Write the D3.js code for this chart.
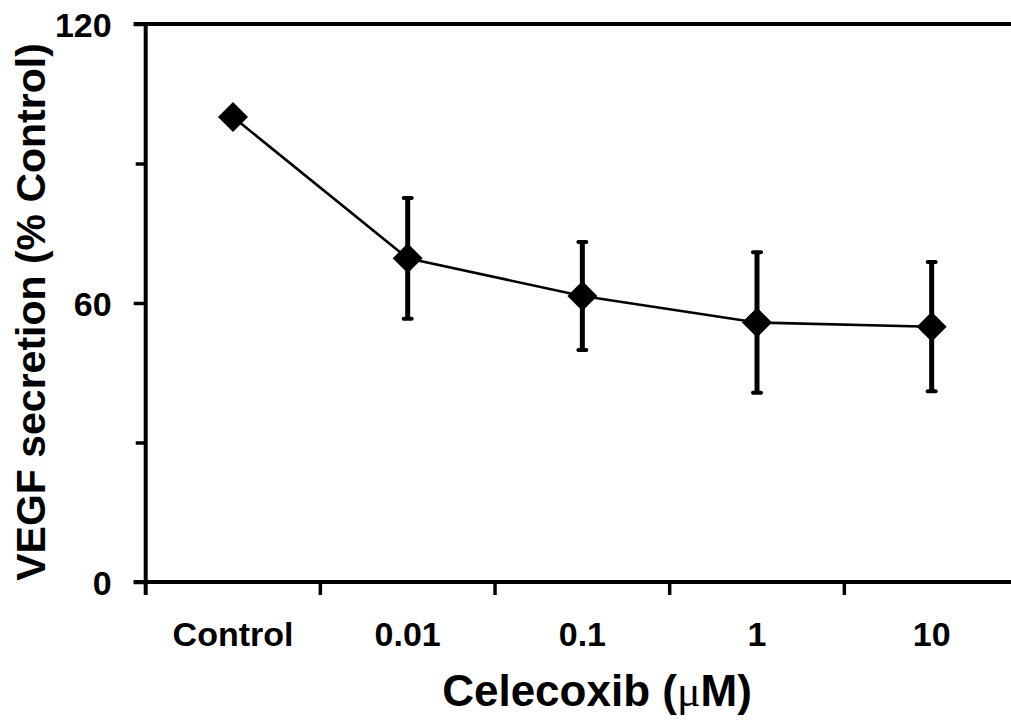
<!DOCTYPE html>
<html>
<head>
<meta charset="utf-8">
<script src="https://cdn.jsdelivr.net/npm/d3@7"></script>
<style>
  html, body { margin: 0; padding: 0; background: #fff; }
  svg { display: block; }
  text { font-family: "Liberation Sans", Arial, sans-serif; font-weight: bold; fill: #000; }
</style>
</head>
<body>
<svg id="chart" width="1011" height="727"></svg>
<script>
const categories = ["Control", "0.01", "0.1", "1", "10"];
const means = [100, 69.6, 61.5, 55.8, 54.9];
const errors = [0, 13, 11.6, 15.1, 13.9];
const yTicks = [0, 30, 60, 90, 120];
const yTickLabels = ["0", "", "60", "", "120"];

const svg = d3.select("#chart");
const x0 = 145.7, x1 = 1019, yTop = 24, yBot = 582;

const x = d3.scaleBand().domain(categories).range([x0, x1]).padding(0);
const y = d3.scaleLinear().domain([0, 120]).range([yBot, yTop]);

// Y axis
const yAxis = d3.axisLeft(y).tickValues(yTicks)
  .tickFormat((d, i) => yTickLabels[i])
  .tickSizeOuter(0).tickSizeInner(12).tickPadding(22);
const gy = svg.append("g").attr("transform", `translate(${x0},0)`).call(yAxis);
gy.select(".domain").remove();
gy.selectAll(".tick line").attr("stroke", "#000").attr("stroke-width", 3.5)
  .attr("x2", d => (d % 60 === 0) ? -12 : -10);
gy.selectAll(".tick text").style("font-size", "34px").attr("dy", "0.36em");
svg.append("line").attr("x1", x0).attr("x2", x0).attr("y1", y(120) - 2).attr("y2", yBot + 13)
  .attr("stroke", "#000").attr("stroke-width", 4);

// top border line
svg.append("line").attr("x1", x0 - 12).attr("x2", 1011).attr("y1", y(120)).attr("y2", y(120))
  .attr("stroke", "#000").attr("stroke-width", 4);

// X axis
const xAxis = d3.axisBottom(x).tickSize(0).tickPadding(0);
const gx = svg.append("g").attr("transform", `translate(0,${yBot})`).call(xAxis);
gx.select(".domain").remove();
gx.selectAll(".tick text").style("font-size", "34px").attr("y", 64).attr("dy", 0);
svg.append("line").attr("x1", x0 - 12).attr("x2", 1011).attr("y1", yBot).attr("y2", yBot)
  .attr("stroke", "#000").attr("stroke-width", 4);
const bounds = categories.map(c => x(c)).slice(1);
svg.append("g").selectAll("line").data(bounds).join("line")
  .attr("x1", d => d).attr("x2", d => d).attr("y1", yBot).attr("y2", yBot + 13)
  .attr("stroke", "#000").attr("stroke-width", 3.5);

// data
const data = categories.map((c, i) => ({ c, m: means[i], e: errors[i] }));
const cx = d => x(d.c) + x.bandwidth() / 2;

const line = d3.line().x(cx).y(d => y(d.m));
svg.append("path").datum(data).attr("d", line).attr("fill", "none")
  .attr("stroke", "#000").attr("stroke-width", 2.6);

const eb = svg.append("g").selectAll("g").data(data.filter(d => d.e > 0)).join("g");
eb.append("line").attr("x1", cx).attr("x2", cx)
  .attr("y1", d => y(d.m + d.e)).attr("y2", d => y(d.m - d.e))
  .attr("stroke", "#000").attr("stroke-width", 5);
eb.selectAll("line.cap").data(d => [[d, d.m + d.e], [d, d.m - d.e]]).join("line")
  .attr("class", "cap")
  .attr("x1", p => cx(p[0]) - 4).attr("x2", p => cx(p[0]) + 4)
  .attr("y1", p => y(p[1])).attr("y2", p => y(p[1]))
  .attr("stroke", "#000").attr("stroke-width", 4).attr("stroke-linecap", "round");

svg.append("g").selectAll("path").data(data).join("path")
  .attr("d", d3.symbol(d3.symbolSquare, 450))
  .attr("transform", d => `translate(${cx(d)},${y(d.m)}) rotate(45)`)
  .attr("fill", "#000");

// axis titles
const xt = svg.append("text").attr("x", 597).attr("y", 706).attr("text-anchor", "middle")
  .style("font-size", "44px");
xt.append("tspan").text("Celecoxib (");
xt.append("tspan").text("\u03BC").style("font-family", "'Liberation Serif', serif").style("font-weight", "normal");
xt.append("tspan").text("M)");

svg.append("text").attr("transform", "translate(45,312) rotate(-90)")
  .attr("text-anchor", "middle").style("font-size", "41px")
  .text("VEGF secretion (% Control)");
</script>
</body>
</html>
